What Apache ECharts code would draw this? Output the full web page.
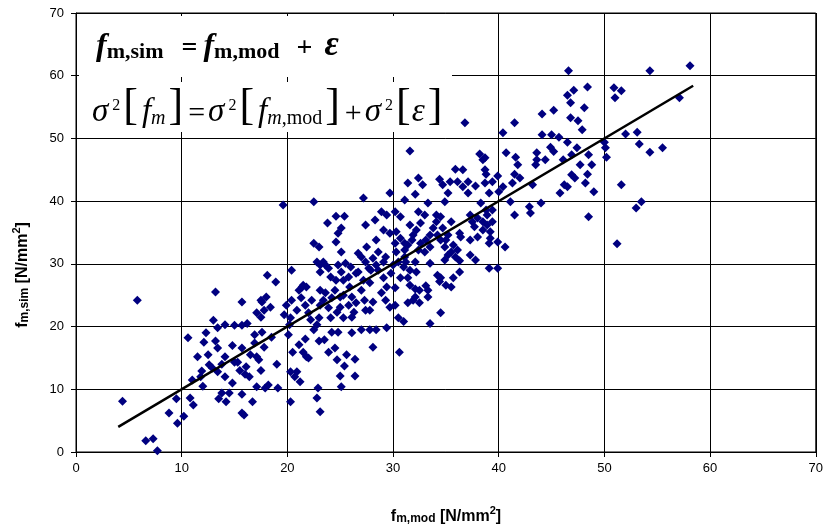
<!DOCTYPE html>
<html>
<head>
<meta charset="utf-8">
<script src="https://cdn.jsdelivr.net/npm/echarts@6/dist/echarts.min.js"></script>
<style>
  html, body { margin: 0; padding: 0; background: #fff; }
  #chart { width: 826px; height: 527px; }
</style>
</head>
<body>
<div id="chart"></div>
<script>
// f_m,mod (x) and f_m,sim (y), N/mm2
const fmMod = [
  4.4, 6.6, 7.3, 7.7, 8.8, 9.6, 9.5, 10.2, 10.8, 11.1, 10.6, 12.3, 12.1, 13.2, 13.4, 13.4, 11.5, 12.6, 11.9, 11.8,
  12.9, 13.4, 14.1, 14.1, 15.0, 15.3, 15.7, 16.1, 16.0, 16.4, 16.9, 16.9, 17.1, 17.1, 13.8, 14.5, 13.5, 14.2, 15.7, 16.7,
  15.7, 15.9, 14.1, 15.0, 15.7, 5.8, 13.2, 15.7, 17.1,
  17.9, 18.2, 19.1, 20.3, 22.9, 22.8, 23.1, 25.0, 25.1, 25.4, 26.4, 25.6, 26.4, 24.7, 23.9, 24.5, 28.1, 30.6, 20.3, 20.9,
  20.7, 21.2, 19.0, 17.3, 17.8, 20.5, 21.1, 21.5, 21.8, 22.0, 21.7, 23.0, 23.5, 24.2, 24.8, 26.1, 27.0, 27.8, 28.4, 29.4,
  22.5, 20.1, 18.5, 17.6,
  32.1, 35.2, 37.1, 39.1, 40.0, 33.3, 34.9, 38.3, 41.1, 41.5, 42.9, 43.0, 44.0, 32.4, 33.0, 34.1, 34.5, 35.5, 37.3, 38.9,
  39.4, 32.6, 33.8, 37.7, 38.5, 39.2, 31.9, 33.5, 35.2, 36.3, 36.4, 37.3, 38.0, 39.1, 39.9, 40.6, 31.8, 32.6, 33.5, 34.5,
  34.9, 35.5, 33.0, 32.1, 33.5, 34.9, 35.9, 36.3, 37.3, 37.8, 39.1, 39.9, 31.6, 32.2, 36.3, 31.4, 34.5, 34.4, 33.1, 32.1,
  33.3, 35.5, 32.1, 32.5, 33.3, 31.4, 34.5, 33.5,
  19.6, 22.5, 27.2, 29.7, 31.1, 23.8, 24.6, 25.4, 27.4, 28.3, 28.9, 29.4, 30.2, 30.7, 25.1, 24.8, 24.6, 22.5, 23.0, 25.1,
  26.7, 27.5, 28.4, 29.1, 29.7, 30.3, 30.7, 30.2, 31.1, 28.6, 29.3, 27.0, 28.1, 30.3, 31.1, 22.8, 23.4, 25.5, 26.0, 25.1,
  25.8, 26.5, 23.9, 24.1, 24.6, 23.1, 20.4, 18.1, 18.9, 21.4, 21.8, 21.1, 23.1, 23.6, 24.5, 24.2, 25.0, 22.3, 23.1, 20.4,
  18.0, 18.4, 17.6, 19.9, 20.9, 22.0, 25.0, 26.1, 27.0, 27.8, 26.5, 27.4, 28.1, 28.9, 29.4, 30.2, 29.1, 29.8, 30.7, 31.0,
  30.2, 30.5, 31.0, 26.1, 24.1, 23.0,
  36.8, 31.6, 40.4, 41.5, 44.1, 45.2, 44.1, 45.0, 44.9, 45.2, 43.6, 43.6, 38.2, 38.7, 40.7, 41.6, 41.8, 35.9, 36.6, 38.7,
  38.8, 39.9, 41.5, 32.4, 34.4, 35.4, 36.1, 37.1, 38.7, 39.4, 43.2, 31.4,
  46.6, 54.3, 58.1, 48.4, 46.5, 47.1, 46.8, 48.1, 50.9, 51.6, 51.0, 57.1, 46.8, 47.5, 47.9, 45.7, 46.5, 47.4, 46.9, 48.5,
  48.8, 48.4, 47.2, 48.2, 46.5, 52.0, 53.1, 53.3, 54.3, 55.5, 50.0, 50.1, 50.2, 51.6,
  45.8, 49.0, 48.5, 53.5, 53.0, 51.2,
  // denser centre of the cloud
  23.1, 23.6, 24.8, 25.3, 25.9, 26.7, 27.2, 27.7, 27.4, 27.9, 28.4, 28.6, 29.1, 30.0, 30.5, 31.1, 31.2, 29.3, 29.7, 27.3,
  27.8, 25.3, 25.8, 26.3, 23.4, 23.9, 24.7, 25.3, 21.3, 21.7, 21.5, 17.5, 17.8, 19.7, 20.3, 20.2, 22.2, 22.8,
  31.6, 32.2, 31.4, 32.4, 33.1, 34.1, 34.7, 34.2, 35.0, 35.7, 36.1, 35.2, 37.5, 38.0, 38.5, 38.9, 39.4, 38.8, 39.2, 31.6,
  31.9, 32.5, 34.2, 35.0, 35.7,
  32.8, 34.7, 36.6, 37.8, 40.4, 41.3, 42.0, 38.5, 43.5, 44.4, 46.1, 47.7, 46.9, 46.2,
  12.5, 13.8, 14.8, 15.5, 16.5, 17.5, 11.0, 12.0, 16.2, 17.5, 14.8, 13.0
];
const fmSim = [
  8.1, 1.8, 2.1, 0.2, 6.2, 4.6, 8.5, 5.7, 8.6, 7.5, 18.2, 19.0, 17.5, 17.7, 16.6, 19.8, 15.2, 13.9, 12.9, 12.0,
  13.4, 12.8, 15.2, 12.0, 14.3, 14.3, 16.6, 13.6, 12.4, 12.0, 18.7, 17.4, 15.2, 10.4, 9.4, 9.4, 8.5, 8.0, 9.2, 8.0,
  6.2, 5.9, 20.3, 20.2, 20.2, 24.2, 25.5, 23.9, 22.2,
  10.2, 10.7, 10.2, 8.0, 10.2, 8.6, 6.4, 12.1, 10.4, 13.7, 12.1, 15.5, 14.8, 14.7, 15.9, 16.6, 16.7, 15.9, 12.8, 12.8,
  12.0, 11.2, 14.0, 14.7, 16.7, 15.9, 17.1, 15.9, 15.2, 15.0, 18.0, 17.7, 17.9, 19.1, 19.1, 19.0, 19.5, 19.5, 19.5, 19.8,
  19.5, 18.7, 18.3, 19.1,
  41.1, 41.3, 41.3, 41.3, 41.5, 39.7, 39.9, 39.7, 39.9, 37.8, 39.1, 38.1, 39.7, 38.3, 37.8, 37.8, 37.5, 36.7, 37.8, 37.8,
  38.6, 36.5, 35.7, 35.9, 35.4, 35.1, 34.6, 34.6, 34.6, 34.9, 34.3, 33.8, 34.3, 33.3, 33.5, 32.7, 33.8, 33.3, 32.7, 33.8,
  32.7, 31.9, 31.9, 30.3, 30.1, 30.6, 31.1, 30.5, 31.4, 30.6, 29.3, 29.3, 29.0, 28.7, 28.7, 27.8, 27.8, 27.2, 26.5, 26.0,
  25.8, 26.3, 24.7, 23.8, 24.7, 23.8, 22.2, 20.5,
  39.4, 39.9, 40.5, 41.3, 40.2, 36.5, 37.6, 37.6, 36.2, 37.0, 38.3, 37.8, 38.3, 37.5, 35.7, 34.9, 33.5, 33.3, 32.7, 31.9,
  31.7, 32.7, 33.8, 35.4, 34.9, 35.1, 34.1, 33.3, 33.3, 31.9, 31.1, 31.1, 30.9, 31.9, 31.1, 30.3, 30.3, 30.1, 29.5, 28.7,
  27.9, 28.5, 29.3, 27.9, 27.4, 28.7, 29.0, 28.2, 27.1, 26.3, 26.3, 25.8, 25.8, 25.4, 25.8, 24.6, 24.7, 24.2, 23.4, 24.2,
  24.7, 23.1, 23.9, 23.4, 22.6, 22.2, 23.1, 24.7, 25.8, 27.0, 23.8, 22.6, 23.9, 25.4, 26.3, 26.2, 27.8, 28.5, 27.8, 29.5,
  23.4, 21.4, 20.8, 21.5, 21.4, 21.4,
  52.5, 48.0, 50.9, 52.5, 53.9, 54.5, 50.6, 50.6, 48.6, 47.9, 47.7, 46.6, 47.5, 46.9, 47.7, 47.0, 45.8, 45.1, 45.0, 45.0,
  44.3, 44.0, 44.3, 43.7, 43.5, 43.1, 43.1, 43.1, 42.9, 43.1, 42.6, 42.9,
  60.8, 60.8, 61.6, 58.2, 56.9, 57.7, 55.7, 54.9, 58.1, 57.6, 56.5, 56.5, 53.3, 52.8, 51.4, 50.2, 49.4, 48.5, 47.4, 47.4,
  45.8, 44.3, 43.7, 42.9, 42.3, 50.7, 51.0, 49.1, 47.8, 48.5, 49.4, 48.5, 47.0, 42.6,
  41.3, 41.5, 37.5, 39.9, 38.9, 33.2,
  29.8, 29.8, 29.8, 27.4, 26.3, 28.7, 27.4, 29.3, 30.3, 29.0, 29.8, 29.0, 30.3, 29.8, 30.3, 32.2, 30.3, 24.2, 23.1, 24.2,
  22.6, 25.0, 23.4, 22.3, 24.2, 23.0, 22.3, 21.4, 24.6, 23.4, 26.6, 24.2, 22.6, 21.9, 21.4, 20.3, 21.1, 20.3,
  36.2, 35.4, 33.0, 32.2, 33.8, 36.7, 35.7, 34.6, 33.8, 33.0, 32.2, 31.4, 36.7, 37.3, 36.7, 36.2, 36.7, 38.6, 34.1, 26.6,
  24.2, 25.8, 28.2, 26.6, 27.8,
  42.6, 42.6, 42.3, 42.4, 42.3, 42.9, 43.7, 46.6, 45.8, 46.6, 46.6, 45.8, 44.2, 42.6,
  15.5, 14.0, 11.0, 13.0, 15.5, 13.0, 11.5, 10.5, 20.5, 21.5, 17.0, 21.0
];
// 1:1 line drawn across the data
const lineX = [4, 58.4];
const lineY = [4, 58.4];
const axisMin = 0;
const axisMax = 70;
const axisStep = 10;

const points = fmMod.map((x, i) => [x, fmSim[i]]);
const linePts = lineX.map((x, i) => [x, lineY[i]]);

const chart = echarts.init(document.getElementById('chart'));

const serif = 'Liberation Serif';
const sans = 'Liberation Sans';

function axisCommon() {
  return {
    type: 'value',
    min: axisMin,
    max: axisMax,
    interval: axisStep,
    axisLine: { show: true, lineStyle: { color: '#000', width: 1 } },
    axisTick: { show: true, length: 5, lineStyle: { color: '#000' } },
    splitLine: { show: true, lineStyle: { color: '#000', width: 1 } }
  };
}

const nameRich = {
  b: { font: 'bold 16px ' + sans, lineHeight: 20, verticalAlign: 'bottom', fill: '#000' },
  s: { font: 'bold 12px ' + sans, lineHeight: 10, verticalAlign: 'bottom', fill: '#000' },
  p: { font: 'bold 11px ' + sans, lineHeight: 10, verticalAlign: 'top', fill: '#000' }
};

chart.setOption({
  animation: false,
  backgroundColor: '#fff',
  grid: { left: 76, right: 8, top: 13, bottom: 75, show: true, borderColor: '#000', borderWidth: 1 },
  xAxis: Object.assign(axisCommon(), { axisLabel: { color: '#000', fontFamily: sans, fontSize: 13, margin: 10 } }),
  yAxis: Object.assign(axisCommon(), { axisLabel: { color: '#000', fontFamily: sans, fontSize: 13, margin: 12 } }),
  series: [
    {
      type: 'scatter',
      data: points,
      symbol: 'diamond',
      symbolSize: 9,
      itemStyle: { color: '#000080', opacity: 1 },
      z: 3
    },
    {
      type: 'line',
      data: linePts,
      symbol: 'none',
      lineStyle: { color: '#000', width: 2.5 },
      z: 4
    }
  ],
  graphic: [
    // white boxes behind the formulas
    { type: 'rect', left: 79, top: 16, shape: { width: 373, height: 61 }, style: { fill: '#fff' }, z: 10 },
    { type: 'rect', left: 79, top: 82, shape: { width: 373, height: 50 }, style: { fill: '#fff' }, z: 10 },
    {
      type: 'text', x: 96, y: 45, z: 11,
      style: {
        text: '{f|f}{s|m,sim}{e|=}{f|f}{s|m,mod}{a|+}{v|ε}',
        verticalAlign: 'middle',
        rich: {
          f: { font: 'italic bold 32px ' + serif, lineHeight: 36, verticalAlign: 'bottom', fill: '#000' },
          v: { font: 'italic bold 35px ' + serif, lineHeight: 36, verticalAlign: 'bottom', fill: '#000' },
          s: { font: 'bold 22px ' + serif, lineHeight: 18, verticalAlign: 'bottom', fill: '#000' },
          e: { font: 'bold 28px ' + serif, lineHeight: 36, verticalAlign: 'bottom', fill: '#000', padding: [0, 6, 0, 18] },
          a: { font: 'bold 28px ' + serif, lineHeight: 36, verticalAlign: 'bottom', fill: '#000', padding: [0, 12, 0, 17] }
        }
      }
    },
    {
      type: 'text', x: 92, y: 106, z: 11,
      style: {
        text: '{g|σ}{p|2}{b|[}{f|f}{s|m}{b|]}{o|=}{g|σ}{p|2}{b|[}{f|f}{s|m}{r|,mod}{b|]}{o|+}{g|σ}{p|2}{b|[}{g|ε}{b|]}',
        verticalAlign: 'middle',
        rich: {
          g: { font: 'italic 33px ' + serif, lineHeight: 46, verticalAlign: 'bottom', fill: '#000' },
          f: { font: 'italic 33px ' + serif, lineHeight: 46, verticalAlign: 'bottom', fill: '#000', padding: [0, 0, 0, 3] },
          b: { font: '44px ' + serif, lineHeight: 46, verticalAlign: 'bottom', fill: '#000', padding: [0, 1, 0, 3] },
          o: { font: '30px ' + serif, lineHeight: 46, verticalAlign: 'bottom', fill: '#000', padding: [0, 3, 0, 4] },
          p: { font: '16px ' + serif, lineHeight: 46, verticalAlign: 'middle', fill: '#000', padding: [0, 0, 0, 4] },
          s: { font: 'italic 20px ' + serif, lineHeight: 22, verticalAlign: 'bottom', fill: '#000' },
          r: { font: '20px ' + serif, lineHeight: 22, verticalAlign: 'bottom', fill: '#000' }
        }
      }
    },
    {
      type: 'text', x: 446, y: 515, z: 11,
      style: {
        text: '{b|f}{s|m,mod}{b| [N/mm}{p|2}{b|]}',
        align: 'center', verticalAlign: 'middle',
        rich: nameRich
      }
    },
    {
      type: 'text', x: 21, y: 275, rotation: Math.PI / 2, z: 11,
      style: {
        text: '{b|f}{s|m,sim}{b| [N/mm}{p|2}{b|]}',
        align: 'center', verticalAlign: 'middle',
        rich: nameRich
      }
    }
  ]
});
</script>
</body>
</html>
